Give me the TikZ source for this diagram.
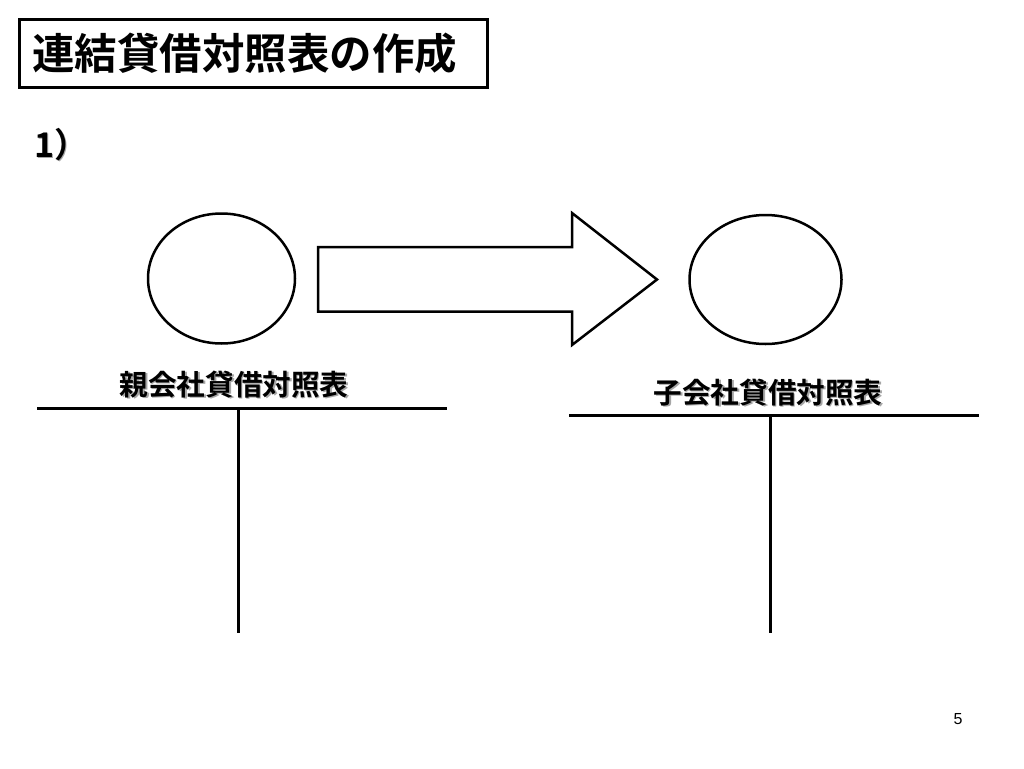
\documentclass[tikz,border=0pt]{standalone}
\usepackage{fontspec}
\newfontfamily\jpb{Noto Sans CJK JP Bold}
\setmainfont{Liberation Sans}
\newcommand\shtext[1]{\makebox[0pt][l]{\hspace{1.6pt}\raisebox{-1.6pt}{\textcolor{black!35}{#1}}}#1}
\begin{document}
\begin{tikzpicture}[x=1pt,y=-1pt,
  tline/.style={line width=3pt},
  outl/.style={draw,line width=2.5pt},
  lbl/.style={inner sep=0pt,font=\jpb\fontsize{28.6}{28.6}\selectfont}]
\useasboundingbox (0,0) rectangle (1024,768);
\fill[white] (0,0) rectangle (1024,768);
% title
\node[draw,line width=3pt,minimum width=468pt,minimum height=67pt,inner sep=0pt,
  font=\jpb\fontsize{42.5}{42.5}\selectfont] (title) at (253,53.5) {\hspace*{-8.5pt}連結貸借対照表の作成\hspace*{8.5pt}};
\node[inner sep=0pt,anchor=west,font=\jpb\fontsize{34}{34}\selectfont] (num) at (34,145) {\shtext{1）}};
% circles
\draw[outl] (221.5,278.5) ellipse (73.5 and 65);
\node[inner sep=0pt] (c1) at (221.5,278.5) {};
\draw[outl] (765.5,279.5) ellipse (76 and 64.5);
\node[inner sep=0pt] (c2) at (765.5,279.5) {};
% arrow
\draw[outl,line join=miter] (318,247) -- (572,247) -- (572,213) -- (657,279.5)
  -- (572,345) -- (572,311.5) -- (318,311.5) -- cycle;
% labels
\node[lbl] (l1) at (234,385) {\shtext{親会社貸借対照表}};
\node[lbl] (l2) at (768,393) {\shtext{子会社貸借対照表}};
% T accounts
\coordinate (a1) at (37,408);
\coordinate (a2) at (447,408);
\coordinate (a3) at (238,408);
\coordinate (a4) at (238,633);
\draw[tline] (a1) -- (a2);
\draw[tline] (a3) -- (a4);
\coordinate (b1) at (569,415);
\coordinate (b2) at (979,415);
\coordinate (b3) at (770,415);
\coordinate (b4) at (770,633);
\draw[tline] (b1) -- (b2);
\draw[tline] (b3) -- (b4);
% page number
\node[inner sep=0pt,font=\fontsize{16}{16}\selectfont] (pg) at (958,719) {5};
\end{tikzpicture}
\end{document}
